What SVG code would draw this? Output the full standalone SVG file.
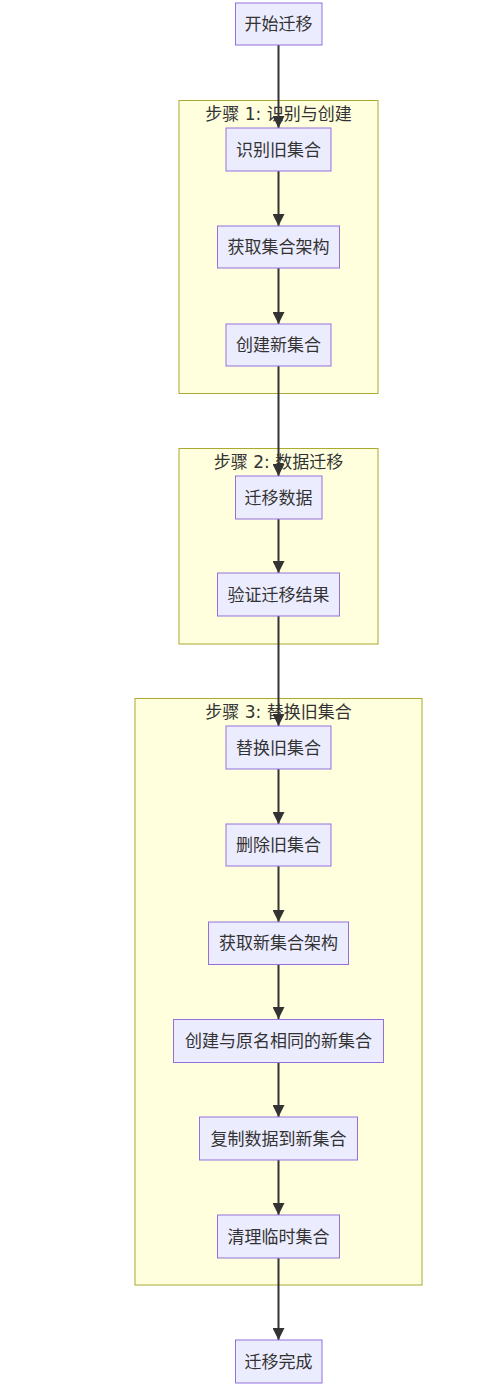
<svg xmlns="http://www.w3.org/2000/svg" width="485" height="1390" viewBox="0 0 485 1390">
<style>
.cluster rect{fill:#ffffde;stroke:#aaaa33;stroke-width:1}
.node rect{fill:#ECECFF;stroke:#9370DB;stroke-width:1}
text{font-family:"DejaVu Sans","Noto Sans CJK SC",sans-serif;font-size:17px;fill:#333;text-anchor:middle;dominant-baseline:central}
.edge{stroke:#333;stroke-width:2;fill:none;marker-end:url(#arrow)}
</style>
<defs>
<marker id="arrow" viewBox="0 0 10 10" refX="10" refY="5" markerUnits="userSpaceOnUse" markerWidth="12" markerHeight="12" orient="auto">
<path d="M0,0 L10,5 L0,10 z" fill="#333"/>
</marker>
</defs>
<g id="clusters">
<g id="cluster1" class="cluster"><rect x="179" y="100.5" width="199" height="293"/><text x="278.5" y="114">步骤 1: 识别与创建</text></g>
<g id="cluster2" class="cluster"><rect x="179" y="448.5" width="199" height="195.5"/><text x="278.5" y="462">步骤 2: 数据迁移</text></g>
<g id="cluster3" class="cluster"><rect x="135" y="698.5" width="287" height="586.5"/><text x="278.5" y="712">步骤 3: 替换旧集合</text></g>
</g>
<g id="edges">
<path class="edge" d="M278.5,45 V128"/>
<path class="edge" d="M278.5,171 V226"/>
<path class="edge" d="M278.5,268 V324"/>
<path class="edge" d="M278.5,366 V476"/>
<path class="edge" d="M278.5,519 V573"/>
<path class="edge" d="M278.5,616 V726"/>
<path class="edge" d="M278.5,769 V824"/>
<path class="edge" d="M278.5,866 V922"/>
<path class="edge" d="M278.5,964 V1019"/>
<path class="edge" d="M278.5,1062 V1117"/>
<path class="edge" d="M278.5,1160 V1215"/>
<path class="edge" d="M278.5,1258 V1340"/>
</g>
<g id="n_start" class="node"><rect x="235.5" y="3" width="86.5" height="42"/><text x="278.5" y="24">开始迁移</text></g>
<g id="n1" class="node"><rect x="226" y="128" width="105" height="43"/><text x="278.5" y="149.5">识别旧集合</text></g>
<g id="n2" class="node"><rect x="217.5" y="226" width="122" height="42"/><text x="278.5" y="247">获取集合架构</text></g>
<g id="n3" class="node"><rect x="226" y="324" width="105" height="42"/><text x="278.5" y="345">创建新集合</text></g>
<g id="n4" class="node"><rect x="235.5" y="476" width="86.5" height="43"/><text x="278.5" y="497.5">迁移数据</text></g>
<g id="n5" class="node"><rect x="217.5" y="573" width="122" height="43"/><text x="278.5" y="594.5">验证迁移结果</text></g>
<g id="n6" class="node"><rect x="226" y="726" width="105" height="43"/><text x="278.5" y="747.5">替换旧集合</text></g>
<g id="n7" class="node"><rect x="226" y="824" width="105" height="42"/><text x="278.5" y="845">删除旧集合</text></g>
<g id="n8" class="node"><rect x="208.5" y="922" width="140" height="42.5"/><text x="278.5" y="943">获取新集合架构</text></g>
<g id="n9" class="node"><rect x="173.5" y="1019.5" width="210" height="43"/><text x="278.5" y="1041">创建与原名相同的新集合</text></g>
<g id="n10" class="node"><rect x="199.5" y="1117" width="158" height="43"/><text x="278.5" y="1138.5">复制数据到新集合</text></g>
<g id="n11" class="node"><rect x="217.5" y="1215" width="122" height="43"/><text x="278.5" y="1236.5">清理临时集合</text></g>
<g id="n_end" class="node"><rect x="235.5" y="1340" width="86.5" height="43"/><text x="278.5" y="1361.5">迁移完成</text></g>
</svg>
